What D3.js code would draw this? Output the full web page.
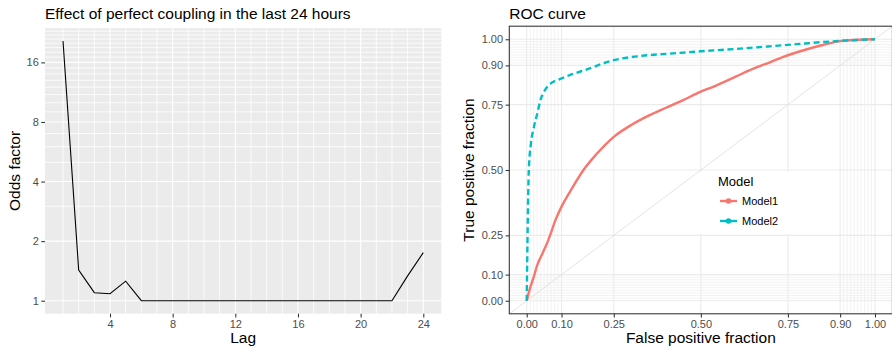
<!DOCTYPE html>
<html lang="en">
<head>
<meta charset="UTF-8">
<title>Odds factor by lag and ROC curve</title>
<script src="https://d3js.org/d3.v7.min.js"></script>
<style>
  body, html { margin: 0; padding: 0; background: #fff; overflow: hidden; }
  text { font-family: "Liberation Sans", Arial, sans-serif; }
</style>
</head>
<body>
<svg id="chart"></svg>
<script>
// ---- data ----
const lags = d3.range(1, 25);
const odds = [20.5, 1.43, 1.098, 1.085, 1.255, 1, 1, 1, 1, 1, 1, 1, 1, 1, 1, 1, 1, 1, 1, 1, 1, 1, 1.335, 1.75];
const lagTicks = [4, 8, 12, 16, 20, 24];
const oddsTicks = [1, 2, 4, 8, 16];

const rocSeries = ["Model1", "Model2"];
const model1FPF = [0, 0.01, 0.02, 0.03, 0.045, 0.06, 0.067, 0.083, 0.1, 0.13, 0.163, 0.2, 0.25, 0.3, 0.35, 0.4, 0.449, 0.5, 0.535, 0.6, 0.649, 0.7, 0.735, 0.8, 0.85, 0.9, 0.95, 1];
const model1TPF = [0, 0.05, 0.09, 0.135, 0.18, 0.225, 0.25, 0.31, 0.36, 0.43, 0.5, 0.56, 0.627, 0.672, 0.708, 0.738, 0.767, 0.8, 0.818, 0.857, 0.887, 0.913, 0.932, 0.96, 0.978, 0.993, 0.998, 1];
const model2FPF = [0, 0.003, 0.006, 0.012, 0.02, 0.031, 0.04, 0.05, 0.07, 0.09, 0.116, 0.173, 0.25, 0.326, 0.42, 0.5, 0.6, 0.707, 0.8, 0.9, 1];
const model2TPF = [0, 0.3, 0.5, 0.6, 0.66, 0.72, 0.77, 0.8, 0.832, 0.845, 0.859, 0.885, 0.92, 0.936, 0.946, 0.954, 0.963, 0.974, 0.984, 0.994, 1];
const rocTicks = [0, 0.1, 0.25, 0.5, 0.75, 0.9, 1];
const rocMinor = d3.range(1, 10).map(i => i / 100).concat(d3.range(91, 100).map(i => i / 100));

const width = 892, height = 351;
const svg = d3.select("#chart").attr("width", width).attr("height", height);

const tickCol = "#333333", labCol = "#4D4D4D";

function styleAxis(g) {
  g.select(".domain").remove();
  g.selectAll(".tick line").attr("stroke", tickCol).attr("stroke-width", 1.07);
  g.selectAll(".tick text").attr("fill", labCol).style("font-size", "11px")
    .style("font-family", "'Liberation Sans', Arial, sans-serif");
}

// ---------------------------
// left panel: odds factor by lag
// ---------------------------
const L = { left: 45, right: 441.3, top: 28.1, bottom: 313.7 };

const xLag = d3.scaleLinear()
  .domain([1 - 23 * 0.05, 24 + 23 * 0.05])
  .range([L.left, L.right]);

const lmin = Math.log2(1), lmax = Math.log2(d3.max(odds));
const lpad = (lmax - lmin) * 0.05;
const yOdds = d3.scaleLog().base(2)
  .domain([Math.pow(2, lmin - lpad), Math.pow(2, lmax + lpad)])
  .range([L.bottom, L.top]);

svg.append("text")
  .attr("x", L.left).attr("y", 18.5)
  .style("font-size", "15.5px")
  .text("Effect of perfect coupling in the last 24 hours");

svg.append("rect")
  .attr("x", L.left).attr("y", L.top)
  .attr("width", L.right - L.left).attr("height", L.bottom - L.top)
  .attr("fill", "#EBEBEB");

const leftGrid = svg.append("g");
leftGrid.selectAll(".vgrid")
  .data(lags)
  .join("line")
  .attr("x1", d => xLag(d)).attr("x2", d => xLag(d))
  .attr("y1", L.top).attr("y2", L.bottom)
  .attr("stroke", "#fff")
  .attr("stroke-width", d => lagTicks.includes(d) ? 1.1 : 0.8);

leftGrid.selectAll(".hgrid")
  .data(d3.range(1, 25))
  .join("line")
  .attr("x1", L.left).attr("x2", L.right)
  .attr("y1", d => yOdds(d)).attr("y2", d => yOdds(d))
  .attr("stroke", "#fff")
  .attr("stroke-width", d => oddsTicks.includes(d) ? 1.1 : 0.8);

svg.append("path")
  .datum(lags.map((d, i) => [d, odds[i]]))
  .attr("fill", "none")
  .attr("stroke", "#000")
  .attr("stroke-width", 1.1)
  .attr("d", d3.line().x(d => xLag(d[0])).y(d => yOdds(d[1])));

svg.append("g")
  .attr("transform", `translate(0,${L.bottom})`)
  .call(d3.axisBottom(xLag).tickValues(lagTicks).tickSize(3.7).tickPadding(3))
  .call(styleAxis);

svg.append("g")
  .attr("transform", `translate(${L.left},0)`)
  .call(d3.axisLeft(yOdds).tickValues(oddsTicks).tickFormat(d3.format("d")).tickSize(3.7).tickPadding(2.5))
  .call(styleAxis);

svg.append("text")
  .attr("x", (L.left + L.right) / 2).attr("y", 343)
  .attr("text-anchor", "middle")
  .style("font-size", "15.5px")
  .text("Lag");

svg.append("text")
  .attr("transform", `translate(20,${(L.top + L.bottom) / 2}) rotate(-90)`)
  .attr("text-anchor", "middle")
  .style("font-size", "15.5px")
  .text("Odds factor");

// ---------------------------
// right panel: ROC curve
// ---------------------------
const R = { left: 509.3, right: 892.4, top: 26.2, bottom: 313.8 };

const xRoc = d3.scaleLinear().domain([-0.05, 1.05]).range([R.left, R.right]);
const yRoc = d3.scaleLinear().domain([-0.05, 1.05]).range([R.bottom, R.top]);
const color = d3.scaleOrdinal().domain(rocSeries).range(["#F8766D", "#00BFC4"]);

svg.append("text")
  .attr("x", R.left).attr("y", 18.5)
  .style("font-size", "15.5px")
  .text("ROC curve");

svg.append("defs").append("clipPath").attr("id", "rocClip")
  .append("rect")
  .attr("x", R.left).attr("y", R.top)
  .attr("width", R.right - R.left).attr("height", R.bottom - R.top);

const rocGrid = svg.append("g");
rocGrid.selectAll(".vminor").data(rocMinor).join("line")
  .attr("x1", d => xRoc(d)).attr("x2", d => xRoc(d))
  .attr("y1", R.top).attr("y2", R.bottom)
  .attr("stroke", "#EBEBEB").attr("stroke-width", 0.6);
rocGrid.selectAll(".hminor").data(rocMinor).join("line")
  .attr("x1", R.left).attr("x2", R.right)
  .attr("y1", d => yRoc(d)).attr("y2", d => yRoc(d))
  .attr("stroke", "#EBEBEB").attr("stroke-width", 0.6);
rocGrid.selectAll(".vmajor").data(rocTicks).join("line")
  .attr("x1", d => xRoc(d)).attr("x2", d => xRoc(d))
  .attr("y1", R.top).attr("y2", R.bottom)
  .attr("stroke", "#EBEBEB").attr("stroke-width", 1.1);
rocGrid.selectAll(".hmajor").data(rocTicks).join("line")
  .attr("x1", R.left).attr("x2", R.right)
  .attr("y1", d => yRoc(d)).attr("y2", d => yRoc(d))
  .attr("stroke", "#EBEBEB").attr("stroke-width", 1.1);

// diagonal reference line
svg.append("line")
  .attr("clip-path", "url(#rocClip)")
  .attr("x1", xRoc(-0.05)).attr("y1", yRoc(-0.05))
  .attr("x2", xRoc(1.05)).attr("y2", yRoc(1.05))
  .attr("stroke", "#E0E0E0").attr("stroke-width", 0.9);

const rocData = [
  { key: "Model1", pts: model1FPF.map((d, i) => [d, model1TPF[i]]), dash: null },
  { key: "Model2", pts: model2FPF.map((d, i) => [d, model2TPF[i]]), dash: "6,3.6" }
];

const rocLine = d3.line().curve(d3.curveMonotoneX)
  .x(d => xRoc(d[0])).y(d => yRoc(d[1]));

svg.append("g").attr("clip-path", "url(#rocClip)")
  .selectAll("path")
  .data(rocData)
  .join("path")
  .attr("fill", "none")
  .attr("stroke", d => color(d.key))
  .attr("stroke-width", 2.4)
  .attr("stroke-dasharray", d => d.dash)
  .attr("d", d => rocLine(d.pts));

// legend
const legend = svg.append("g").attr("transform", "translate(700,172)");
legend.append("rect")
  .attr("width", 100).attr("height", 62).attr("fill", "#fff");
legend.append("text")
  .attr("x", 18).attr("y", 14)
  .style("font-size", "13px")
  .text("Model");
const keys = legend.selectAll(".key").data(rocSeries).join("g")
  .attr("transform", (d, i) => `translate(20,${29 + i * 20})`);
keys.append("line")
  .attr("x1", 0).attr("x2", 17)
  .attr("stroke", d => color(d)).attr("stroke-width", 2.4);
keys.append("circle")
  .attr("cx", 8.5).attr("r", 2.8)
  .attr("fill", d => color(d));
keys.append("text")
  .attr("x", 22).attr("y", 4)
  .style("font-size", "11px")
  .text(d => d);

// panel border
svg.append("rect")
  .attr("x", R.left).attr("y", R.top)
  .attr("width", R.right - R.left).attr("height", R.bottom - R.top)
  .attr("fill", "none").attr("stroke", "#333").attr("stroke-width", 1.07);

svg.append("g")
  .attr("transform", `translate(0,${R.bottom})`)
  .call(d3.axisBottom(xRoc).tickValues(rocTicks).tickFormat(d3.format(".2f")).tickSize(3.7).tickPadding(3))
  .call(styleAxis);

svg.append("g")
  .attr("transform", `translate(${R.left},0)`)
  .call(d3.axisLeft(yRoc).tickValues(rocTicks).tickFormat(d3.format(".2f")).tickSize(3.7).tickPadding(2.5))
  .call(styleAxis);

svg.append("text")
  .attr("x", xRoc(0.5)).attr("y", 343)
  .attr("text-anchor", "middle")
  .style("font-size", "15.5px")
  .text("False positive fraction");

svg.append("text")
  .attr("transform", `translate(473.5,${(R.top + R.bottom) / 2}) rotate(-90)`)
  .attr("text-anchor", "middle")
  .style("font-size", "15.5px")
  .text("True positive fraction");
</script>
</body>
</html>
